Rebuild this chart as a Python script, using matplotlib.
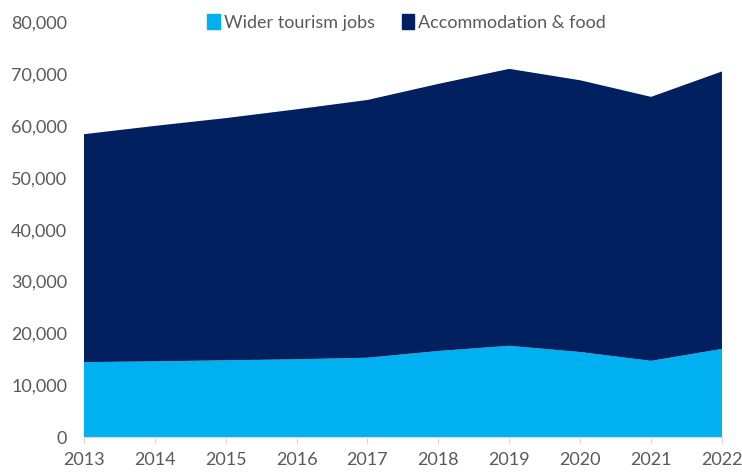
import matplotlib.pyplot as plt
from matplotlib.patches import Patch
from matplotlib.ticker import FuncFormatter

# Data
years = [2013, 2014, 2015, 2016, 2017, 2018, 2019, 2020, 2021, 2022]
wider_jobs = [14450, 14600, 14800, 15000, 15300, 16600, 17600, 16400, 14700, 17000]
total_jobs = [58400, 60000, 61500, 63200, 65000, 68100, 71000, 68800, 65600, 70500]
accom_food = [t - w for t, w in zip(total_jobs, wider_jobs)]

light_blue = '#00B0F0'
navy = '#002060'
grey = '#595959'

plt.rcParams['font.family'] = ['Lato', 'DejaVu Sans']

fig = plt.figure(figsize=(7.42, 4.72), dpi=100)
ax = fig.add_axes([0.113, 0.074, 0.86, 0.879])

ax.stackplot(years, wider_jobs, accom_food, colors=[light_blue, navy], linewidth=0)

ax.set_xlim(years[0], years[-1])
ax.set_ylim(0, 80000)
ax.set_yticks(range(0, 80001, 10000))
ax.yaxis.set_major_formatter(FuncFormatter(lambda v, p: f'{int(v):,}'))
ax.set_xticks(years)

for s in ['top', 'right', 'left']:
    ax.spines[s].set_visible(False)
ax.spines['bottom'].set_color('#d9d9d9')
ax.tick_params(axis='y', length=0, labelsize=13, labelcolor=grey, pad=12)
ax.tick_params(axis='x', length=5, color='#d9d9d9', labelsize=13, labelcolor=grey, pad=6)

handles = [Patch(color=light_blue, label='Wider tourism jobs'),
           Patch(color=navy, label='Accommodation & food')]
fig.legend(handles=handles, loc='upper center', bbox_to_anchor=(0.548, 1.005),
           ncol=2, frameon=False, fontsize=13, labelcolor=grey,
           handlelength=0.7, handleheight=0.9, handletextpad=0.2, columnspacing=1.5)

fig.savefig('out.png', dpi=100)
